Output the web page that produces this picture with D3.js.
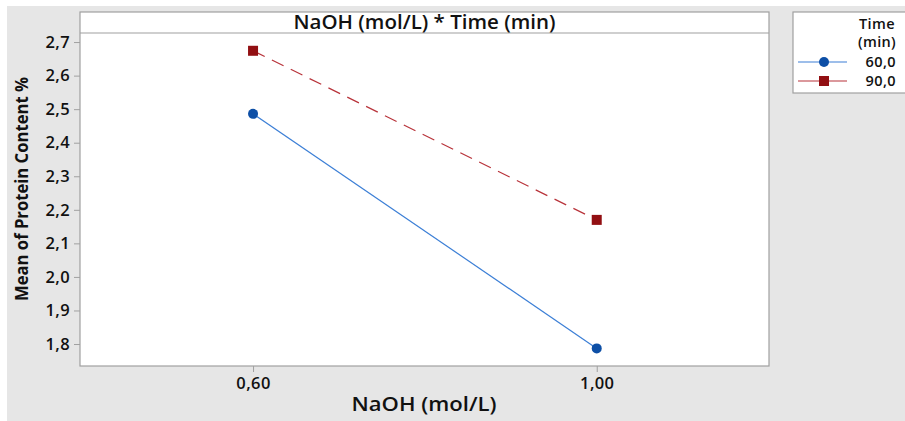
<!DOCTYPE html>
<html>
<head>
<meta charset="utf-8">
<script src="https://cdn.jsdelivr.net/npm/d3@7"></script>
<style>
  html, body { margin: 0; padding: 0; background: #fff; }
  svg { display: block; }
  text { font-family: "Open Sans", sans-serif; fill: #111; }
</style>
</head>
<body>
<div id="chart"></div>
<script>
// data
const naohLevels = [0.60, 1.00];
const timeLevels = ["60,0", "90,0"];
const means60 = [2.486, 1.787];
const means90 = [2.674, 2.170];
const yTicks = [1.8, 1.9, 2.0, 2.1, 2.2, 2.3, 2.4, 2.5, 2.6, 2.7];

const W = 905, H = 421;
const plot = { left: 80, right: 769, top: 12, header: 33, bottom: 366 };
const fmt = (v, d) => v.toFixed(d).replace(".", ",");

const svg = d3.select("#chart").append("svg")
    .attr("width", W).attr("height", H);

// grey frame
svg.append("rect").attr("x", 7).attr("y", 6).attr("width", W - 7).attr("height", H - 6)
    .attr("fill", "#e6e6e6");

// plot panel
svg.append("rect").attr("x", plot.left).attr("y", plot.top)
    .attr("width", plot.right - plot.left).attr("height", plot.bottom - plot.top)
    .attr("fill", "#fff").attr("stroke", "#a0a0a0").attr("stroke-width", 1.2);
svg.append("line").attr("x1", plot.left).attr("x2", plot.right)
    .attr("y1", plot.header).attr("y2", plot.header)
    .attr("stroke", "#a0a0a0").attr("stroke-width", 1.2);
svg.append("text").attr("x", (plot.left + plot.right) / 2).attr("y", 29)
    .attr("text-anchor", "middle").attr("font-size", 19).attr("font-weight", 600)
    .attr("textLength", 262).attr("lengthAdjust", "spacingAndGlyphs")
    .text("NaOH (mol/L) * Time (min)");

const x = d3.scaleLinear().domain([0.3986, 1.2005]).range([plot.left, plot.right]);
const y = d3.scaleLinear().domain([1.7345, 2.727]).range([plot.bottom, plot.header]);

// axes
const yAxis = svg.append("g").attr("transform", `translate(${plot.left},0)`)
    .call(d3.axisLeft(y).tickValues(yTicks).tickSize(6).tickPadding(4).tickFormat(d => fmt(d, 1)));
const xAxis = svg.append("g").attr("transform", `translate(0,${plot.bottom})`)
    .call(d3.axisBottom(x).tickValues(naohLevels).tickSize(6).tickPadding(5).tickFormat(d => fmt(d, 2)));
[yAxis, xAxis].forEach(a => {
  a.select(".domain").remove();
  a.selectAll(".tick line").attr("stroke", "#a0a0a0");
  a.selectAll(".tick text").attr("font-size", 16.5).attr("font-weight", 600)
    .attr("letter-spacing", 0.4)
    .attr("font-family", "Open Sans, sans-serif").attr("fill", "#111");
});

// axis titles
svg.append("text").attr("transform", `translate(28,189) rotate(-90)`)
    .attr("text-anchor", "middle").attr("font-size", 17.5).attr("font-weight", 700)
    .attr("textLength", 224).attr("lengthAdjust", "spacingAndGlyphs")
    .text("Mean of Protein Content %");
svg.append("text").attr("x", 424).attr("y", 411)
    .attr("text-anchor", "middle").attr("font-size", 19.5).attr("font-weight", 600)
    .attr("textLength", 145).attr("lengthAdjust", "spacingAndGlyphs")
    .text("NaOH (mol/L)");

// series
const series = [
  { name: timeLevels[0], values: means60, color: "#3c7fd6", mark: "#0d4fa6", dash: null, shape: "circle" },
  { name: timeLevels[1], values: means90, color: "#b8333a", mark: "#920f12", dash: "13,8", shape: "square" }
];
const line = d3.line().x(d => x(d[0])).y(d => y(d[1]));

function drawMarker(g, s, cx, cy) {
  if (s.shape === "circle") {
    g.append("circle").attr("cx", cx).attr("cy", cy).attr("r", 5).attr("fill", s.mark);
  } else {
    g.append("rect").attr("x", cx - 5).attr("y", cy - 5).attr("width", 10).attr("height", 10)
      .attr("fill", s.mark);
  }
}

series.forEach(s => {
  const pts = naohLevels.map((n, i) => [n, s.values[i]]);
  svg.append("path").attr("d", line(pts)).attr("fill", "none")
    .attr("stroke", s.color).attr("stroke-width", 1.2)
    .attr("stroke-dasharray", s.dash);
  const g = svg.append("g");
  pts.forEach(p => drawMarker(g, s, x(p[0]), y(p[1])));
});

// legend
const lg = svg.append("g");
lg.append("rect").attr("x", 793).attr("y", 12).attr("width", 120).attr("height", 81)
  .attr("fill", "#fff").attr("stroke", "#a0a0a0").attr("stroke-width", 1.2);
lg.append("text").attr("x", 877).attr("y", 29).attr("text-anchor", "middle")
  .attr("font-size", 14.5).attr("font-weight", 600).attr("letter-spacing", 0.4).text("Time");
lg.append("text").attr("x", 877).attr("y", 47).attr("text-anchor", "middle")
  .attr("font-size", 14.5).attr("font-weight", 600).attr("letter-spacing", 0.3).text("(min)");
series.forEach((s, i) => {
  const ly = 62 + i * 19;
  lg.append("line").attr("x1", 798).attr("x2", 847).attr("y1", ly).attr("y2", ly)
    .attr("stroke", s.color).attr("stroke-width", 1.2);
  drawMarker(lg, s, 824, ly);
  lg.append("text").attr("x", 896).attr("y", ly + 5).attr("text-anchor", "end")
    .attr("font-size", 14.5).attr("font-weight", 600).attr("letter-spacing", 0.4).text(s.name);
});
</script>
</body>
</html>
